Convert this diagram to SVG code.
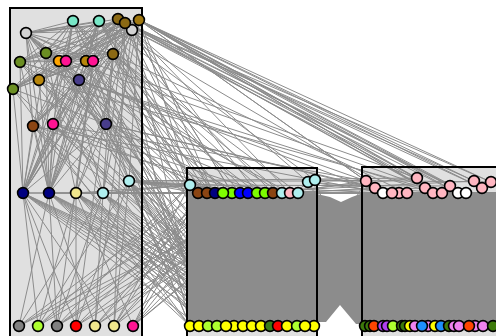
<svg xmlns="http://www.w3.org/2000/svg" width="496" height="336" viewBox="0 0 496 336">
<style>
.box{fill:#e0e0e0}
.frame{fill:none;stroke:#000;stroke-width:2}
.e{fill:none;stroke:#8c8c8c;stroke-width:1}
.d{fill:#8c8c8c}
.n{stroke:#000;stroke-width:1.6}
</style>
<rect width="496" height="336" fill="#fff"/>
<g id="cluster-fills">
<rect class="box" x="10" y="8" width="132" height="340"/>
<rect class="box" x="187" y="168" width="130" height="180"/>
<rect class="box" x="362" y="167" width="140" height="180"/>
</g>
<g id="connectors">
<rect class="d" x="188" y="194" width="129" height="128"/>
<rect class="d" x="363" y="192" width="133" height="130"/>
<polygon class="d" points="317,194 330,197 341,202 352,197 363,193 363,324 356,324 340,305 326,322 317,322"/>
<path class="e" d="M26 33L73 21M26 33L99 21M26 33L118 19M26 33L125 23M26 33L132 30M26 33L139 20M26 33L46 53M26 33L59 61M26 33L66 61M26 33L86 61M26 33L93 61M26 33L113 54M26 33L79 80M26 33L106 124M26 33L49 193M26 33L103 193M73 21L46 53M73 21L20 62M73 21L66 61M73 21L93 61M73 21L39 80M73 21L13 89M73 21L53 124M73 21L23 193M73 21L49 193M99 21L20 62M99 21L59 61M99 21L86 61M99 21L79 80M99 21L13 89M99 21L33 126M99 21L23 193M99 21L49 193M99 21L76 193M118 19L20 62M118 19L66 61M118 19L39 80M118 19L13 89M118 19L33 126M118 19L23 193M118 19L49 193M125 23L46 53M125 23L59 61M125 23L93 61M125 23L79 80M125 23L53 124M125 23L49 193M125 23L103 193M132 30L20 62M132 30L86 61M132 30L39 80M132 30L13 89M132 30L33 126M132 30L23 193M132 30L76 193M139 20L20 62M139 20L66 61M139 20L113 54M139 20L13 89M139 20L53 124M139 20L23 193M139 20L49 193M139 20L129 181M46 53L86 61M46 53L113 54M46 53L79 80M46 53L106 124M46 53L49 193M46 53L76 193M20 62L86 61M20 62L113 54M20 62L79 80M20 62L106 124M20 62L49 193M66 61L33 126M66 61L106 124M66 61L23 193M66 61L103 193M93 61L13 89M93 61L33 126M93 61L23 193M93 61L49 193M93 61L129 181M113 54L39 80M113 54L13 89M113 54L33 126M113 54L23 193M113 54L49 193M39 80L86 61M39 80L106 124M39 80L49 193M79 80L33 126M79 80L23 193M79 80L49 193M79 80L129 181M13 89L93 61M13 89L106 124M13 89L23 193M33 126L23 193M33 126L49 193M33 126L103 193M53 124L23 193M53 124L49 193M53 124L129 181M106 124L23 193M106 124L49 193M106 124L76 193M23 193L38 326M23 193L57 326M23 193L76 326M23 193L114 326M49 193L19 326M49 193L57 326M49 193L95 326M76 193L38 326M76 193L76 326M76 193L133 326M103 193L19 326M103 193L57 326M103 193L95 326M129 181L38 326M129 181L76 326M129 181L114 326M132 30L95 326M113 54L76 326M125 23L114 326M93 61L57 326M73 21L106 124M99 21L53 124M118 19L79 80M125 23L13 89M132 30L66 61M139 20L39 80M26 33L39 80M26 33L33 126M46 53L23 193M20 62L23 193M59 61L49 193M86 61L23 193M113 54L103 193M93 61L76 193M139 20L103 193M118 19L106 124"/>
<path class="e" d="M139 20L417 178M139 20L425 188M139 20L433 193M139 20L450 186M139 20L458 193M139 20L466 193M139 20L474 181M139 20L482 188M139 20L491 182M139 20L442 193M139 20L366 181M139 20L383 193M125 23L417 178M125 23L450 186M125 23L474 181M125 23L491 182M125 23L433 193M118 19L425 188M118 19L466 193M118 19L482 188M132 30L232 193M132 30L257 193M132 30L290 193M132 30L308 182M132 30L442 193M132 30L458 193M73 21L215 193M73 21L248 193M73 21L282 193M99 21L207 193M99 21L240 193M99 21L273 193M99 21L315 180M99 21L392 193M113 54L198 193M113 54L223 193M113 54L265 193M113 54L298 193M113 54L407 193M26 33L190 185M26 33L232 193M86 61L207 193M86 61L257 193M79 80L215 193M79 80L290 193M106 124L198 193M106 124L240 193M106 124L273 193M106 124L375 188M53 124L223 193M53 124L265 193M33 126L248 193M66 61L282 193M79 80L366 181M79 80L383 193M106 124L392 193M86 61L417 178M39 80L425 188M53 124L366 181M33 126L383 193M20 62L433 193M46 53L442 193M139 20L234 326M125 23L278 326M132 30L199 326M113 54L252 326M99 21L305 326M86 61L226 326M79 80L261 326M106 124L297 326M93 61L217 326M39 80L243 326M13 89L270 326M20 62L287 326M46 53L314 326M33 126L208 326M53 124L252 326M106 124L190 326M79 80L226 326M66 61L278 326M59 61L234 326M86 61L199 326M73 21L305 326M26 33L261 326M118 19L190 326M125 23L243 326M139 20L270 326M132 30L314 326M113 54L208 326M99 21L261 326M93 61L287 326M73 21L226 326M66 61L199 326M46 53L252 326M20 62L217 326M13 89L190 326M39 80L305 326M53 124L278 326M33 126L297 326M79 80L314 326M106 124L234 326"/>
<path class="e" d="M129 181L190 185M129 181L198 193M129 181L215 193M129 181L240 193M129 181L265 193M129 181L290 193M129 181L366 181M129 181L383 193M129 181L417 178M103 193L190 185M103 193L207 193M103 193L232 193M103 193L257 193M103 193L282 193M103 193L392 193M76 193L190 185M76 193L223 193M76 193L248 193M76 193L298 193M49 193L198 193M49 193L273 193M23 193L207 193M23 193L240 193M23 193L199 326M23 193L234 326M23 193L270 326M23 193L305 326M49 193L190 326M49 193L226 326M49 193L261 326M49 193L297 326M76 193L208 326M76 193L243 326M76 193L278 326M76 193L314 326M103 193L217 326M103 193L252 326M103 193L287 326M103 193L199 326M129 181L190 326M129 181L226 326M129 181L261 326M129 181L305 326M129 181L234 326M19 326L198 193M19 326L240 193M38 326L215 193M38 326L265 193M57 326L190 185M57 326L232 193M57 326L282 193M76 326L207 193M76 326L257 193M95 326L223 193M95 326L273 193M95 326L298 193M114 326L198 193M114 326L248 193M114 326L290 193M114 326L190 185M133 326L215 193M133 326L240 193M133 326L265 193M133 326L308 182M23 193L217 326M23 193L252 326M23 193L287 326M49 193L208 326M49 193L243 326M49 193L278 326M49 193L314 326M76 193L190 326M76 193L226 326M76 193L261 326M76 193L297 326M103 193L234 326M103 193L270 326M103 193L305 326M129 181L208 326M129 181L243 326M129 181L278 326M129 181L314 326M129 181L252 326M19 326L282 193M38 326L190 185M57 326L257 193M76 326L298 193M95 326L207 193M114 326L232 193M133 326L198 193M133 326L290 193"/>
<path class="e" d="M282 193L366 181M290 193L375 188M298 193L383 193M308 182L392 193M315 180L366 181M273 193L407 193M265 193L417 178M257 193L425 188M248 193L433 193M308 182L442 193M190 185L450 186M232 193L474 181M315 180L491 182M298 193L458 193M298 193L365 326M290 193L374 326M282 193L383 326M315 180L370 326M308 182L393 326M366 181L314 326M375 188L305 326M383 193L297 326M392 193L287 326M366 181L278 326"/>
</g>
<g id="cluster-frames">
<rect class="frame" x="10" y="8" width="132" height="340"/>
<rect class="frame" x="187" y="168" width="130" height="180"/>
<rect class="frame" x="362" y="167" width="140" height="180"/>
</g>
<g id="nodes">
<g id="a1"><circle class="n" cx="26" cy="33" r="5.4" fill="#d3d3d3"/></g>
<g id="a2"><circle class="n" cx="73" cy="21" r="5.4" fill="#78e6c6"/></g>
<g id="a3"><circle class="n" cx="99" cy="21" r="5.4" fill="#78e6c6"/></g>
<g id="a6"><circle class="n" cx="132" cy="30" r="5.4" fill="#d3d3d3"/></g>
<g id="a4"><circle class="n" cx="118" cy="19" r="5.4" fill="#8b6914"/></g>
<g id="a5"><circle class="n" cx="125" cy="23" r="5.4" fill="#8b6914"/></g>
<g id="a7"><circle class="n" cx="139" cy="20" r="5.4" fill="#a07810"/></g>
<g id="a8"><circle class="n" cx="46" cy="53" r="5.4" fill="#6b8e23"/></g>
<g id="a9"><circle class="n" cx="20" cy="62" r="5.4" fill="#6b8e23"/></g>
<g id="a10"><circle class="n" cx="59" cy="61" r="5.4" fill="#ffa500"/></g>
<g id="a11"><circle class="n" cx="66" cy="61" r="5.4" fill="#ff1493"/></g>
<g id="a12"><circle class="n" cx="86" cy="61" r="5.4" fill="#b8860b"/></g>
<g id="a13"><circle class="n" cx="93" cy="61" r="5.4" fill="#ff1493"/></g>
<g id="a14"><circle class="n" cx="113" cy="54" r="5.4" fill="#8b6914"/></g>
<g id="a15"><circle class="n" cx="39" cy="80" r="5.4" fill="#b8860b"/></g>
<g id="a16"><circle class="n" cx="79" cy="80" r="5.4" fill="#483d8b"/></g>
<g id="a17"><circle class="n" cx="13" cy="89" r="5.4" fill="#6b8e23"/></g>
<g id="a18"><circle class="n" cx="33" cy="126" r="5.4" fill="#8b4513"/></g>
<g id="a19"><circle class="n" cx="53" cy="124" r="5.4" fill="#ff1493"/></g>
<g id="a20"><circle class="n" cx="106" cy="124" r="5.4" fill="#483d8b"/></g>
<g id="a21"><circle class="n" cx="23" cy="193" r="5.4" fill="#000080"/></g>
<g id="a22"><circle class="n" cx="49" cy="193" r="5.4" fill="#000080"/></g>
<g id="a23"><circle class="n" cx="76" cy="193" r="5.4" fill="#f0e68c"/></g>
<g id="a24"><circle class="n" cx="103" cy="193" r="5.4" fill="#afeeee"/></g>
<g id="a25"><circle class="n" cx="129" cy="181" r="5.4" fill="#afeeee"/></g>
<g id="a26"><circle class="n" cx="19" cy="326" r="5.4" fill="#808080"/></g>
<g id="a27"><circle class="n" cx="38" cy="326" r="5.4" fill="#adff2f"/></g>
<g id="a28"><circle class="n" cx="57" cy="326" r="5.4" fill="#808080"/></g>
<g id="a29"><circle class="n" cx="76" cy="326" r="5.4" fill="#ff0000"/></g>
<g id="a30"><circle class="n" cx="95" cy="326" r="5.4" fill="#f0e68c"/></g>
<g id="a31"><circle class="n" cx="114" cy="326" r="5.4" fill="#f0e68c"/></g>
<g id="a32"><circle class="n" cx="133" cy="326" r="5.4" fill="#ff1493"/></g>
<g id="b0"><circle class="n" cx="190" cy="185" r="5.4" fill="#afeeee"/></g>
<g id="b1"><circle class="n" cx="198" cy="193" r="5.4" fill="#8b4513"/></g>
<g id="b2"><circle class="n" cx="207" cy="193" r="5.4" fill="#8b4513"/></g>
<g id="b3"><circle class="n" cx="215" cy="193" r="5.4" fill="#000080"/></g>
<g id="b5"><circle class="n" cx="232" cy="193" r="5.4" fill="#7cfc00"/></g>
<g id="b4"><circle class="n" cx="223" cy="193" r="5.4" fill="#7fff00"/></g>
<g id="b6"><circle class="n" cx="240" cy="193" r="5.4" fill="#0000ff"/></g>
<g id="b7"><circle class="n" cx="248" cy="193" r="5.4" fill="#0000ff"/></g>
<g id="b8"><circle class="n" cx="257" cy="193" r="5.4" fill="#7cfc00"/></g>
<g id="b9"><circle class="n" cx="265" cy="193" r="5.4" fill="#7cfc00"/></g>
<g id="b10"><circle class="n" cx="273" cy="193" r="5.4" fill="#8b4513"/></g>
<g id="b11"><circle class="n" cx="282" cy="193" r="5.4" fill="#afeeee"/></g>
<g id="b12"><circle class="n" cx="290" cy="193" r="5.4" fill="#ffb6c1"/></g>
<g id="b13"><circle class="n" cx="298" cy="193" r="5.4" fill="#afeeee"/></g>
<g id="b14"><circle class="n" cx="308" cy="182" r="5.4" fill="#afeeee"/></g>
<g id="b15"><circle class="n" cx="315" cy="180" r="5.4" fill="#afeeee"/></g>
<g id="b16"><circle class="n" cx="190" cy="326" r="5.4" fill="#ffff00"/></g>
<g id="b17"><circle class="n" cx="199" cy="326" r="5.4" fill="#ffff00"/></g>
<g id="b18"><circle class="n" cx="208" cy="326" r="5.4" fill="#adff2f"/></g>
<g id="b19"><circle class="n" cx="217" cy="326" r="5.4" fill="#adff2f"/></g>
<g id="b21"><circle class="n" cx="234" cy="326" r="5.4" fill="#ffff00"/></g>
<g id="b20"><circle class="n" cx="226" cy="326" r="5.4" fill="#ffff00"/></g>
<g id="b22"><circle class="n" cx="243" cy="326" r="5.4" fill="#ffff00"/></g>
<g id="b23"><circle class="n" cx="252" cy="326" r="5.4" fill="#ffff00"/></g>
<g id="b24"><circle class="n" cx="261" cy="326" r="5.4" fill="#ffff00"/></g>
<g id="b25"><circle class="n" cx="270" cy="326" r="5.4" fill="#3a7d1a"/></g>
<g id="b26"><circle class="n" cx="278" cy="326" r="5.4" fill="#ff0000"/></g>
<g id="b27"><circle class="n" cx="287" cy="326" r="5.4" fill="#ffff00"/></g>
<g id="b28"><circle class="n" cx="297" cy="326" r="5.4" fill="#adff2f"/></g>
<g id="b30"><circle class="n" cx="314" cy="326" r="5.4" fill="#ffff00"/></g>
<g id="b29"><circle class="n" cx="305" cy="326" r="5.4" fill="#ffff00"/></g>
<g id="c1"><circle class="n" cx="366" cy="181" r="5.4" fill="#ffb6c1"/></g>
<g id="c2"><circle class="n" cx="375" cy="188" r="5.4" fill="#ffb6c1"/></g>
<g id="c3"><circle class="n" cx="383" cy="193" r="5.4" fill="#ffffff"/></g>
<g id="c5"><circle class="n" cx="399" cy="193" r="5.4" fill="#ffb6c1"/></g>
<g id="c4"><circle class="n" cx="392" cy="193" r="5.4" fill="#ffb6c1"/></g>
<g id="c6"><circle class="n" cx="407" cy="193" r="5.4" fill="#ffb6c1"/></g>
<g id="c7"><circle class="n" cx="417" cy="178" r="5.4" fill="#ffb6c1"/></g>
<g id="c8"><circle class="n" cx="425" cy="188" r="5.4" fill="#ffb6c1"/></g>
<g id="c9"><circle class="n" cx="433" cy="193" r="5.4" fill="#ffb6c1"/></g>
<g id="c10"><circle class="n" cx="442" cy="193" r="5.4" fill="#ffb6c1"/></g>
<g id="c11"><circle class="n" cx="450" cy="186" r="5.4" fill="#ffb6c1"/></g>
<g id="c12"><circle class="n" cx="458" cy="193" r="5.4" fill="#ffffff"/></g>
<g id="c13"><circle class="n" cx="466" cy="193" r="5.4" fill="#ffffff"/></g>
<g id="c14"><circle class="n" cx="474" cy="181" r="5.4" fill="#ffb6c1"/></g>
<g id="c15"><circle class="n" cx="482" cy="188" r="5.4" fill="#ffb6c1"/></g>
<g id="c16"><circle class="n" cx="491" cy="182" r="5.4" fill="#ffb6c1"/></g>
<g id="c17"><circle class="n" cx="365" cy="326" r="5.4" fill="#3d7a0a"/></g>
<g id="c18"><circle class="n" cx="370" cy="326" r="5.4" fill="#3d7a0a"/></g>
<g id="c19"><circle class="n" cx="374" cy="326" r="5.4" fill="#ff4500"/></g>
<g id="c20"><circle class="n" cx="383" cy="326" r="5.4" fill="#b040f0"/></g>
<g id="c21"><circle class="n" cx="387" cy="326" r="5.4" fill="#b040f0"/></g>
<g id="c22"><circle class="n" cx="393" cy="326" r="5.4" fill="#adff2f"/></g>
<g id="c23"><circle class="n" cx="402" cy="326" r="5.4" fill="#3d7a0a"/></g>
<g id="c24"><circle class="n" cx="405" cy="326" r="5.4" fill="#3d7a0a"/></g>
<g id="c25"><circle class="n" cx="410" cy="326" r="5.4" fill="#ffff00"/></g>
<g id="c26"><circle class="n" cx="415" cy="326" r="5.4" fill="#ee82ee"/></g>
<g id="c28"><circle class="n" cx="428" cy="326" r="5.4" fill="#ee82ee"/></g>
<g id="c27"><circle class="n" cx="422" cy="326" r="5.4" fill="#1e90ff"/></g>
<g id="c29"><circle class="n" cx="435" cy="326" r="5.4" fill="#ffff00"/></g>
<g id="c30"><circle class="n" cx="441" cy="326" r="5.4" fill="#1e90ff"/></g>
<g id="c31"><circle class="n" cx="449" cy="326" r="5.4" fill="#3d7a0a"/></g>
<g id="c32"><circle class="n" cx="454" cy="326" r="5.4" fill="#ee82ee"/></g>
<g id="c33"><circle class="n" cx="459" cy="326" r="5.4" fill="#ee82ee"/></g>
<g id="c35"><circle class="n" cx="475" cy="326" r="5.4" fill="#ee82ee"/></g>
<g id="c34"><circle class="n" cx="469" cy="326" r="5.4" fill="#ff4500"/></g>
<g id="c36"><circle class="n" cx="483" cy="326" r="5.4" fill="#ee82ee"/></g>
<g id="c37"><circle class="n" cx="493" cy="326" r="5.4" fill="#3d7a0a"/></g>
</g>
</svg>
